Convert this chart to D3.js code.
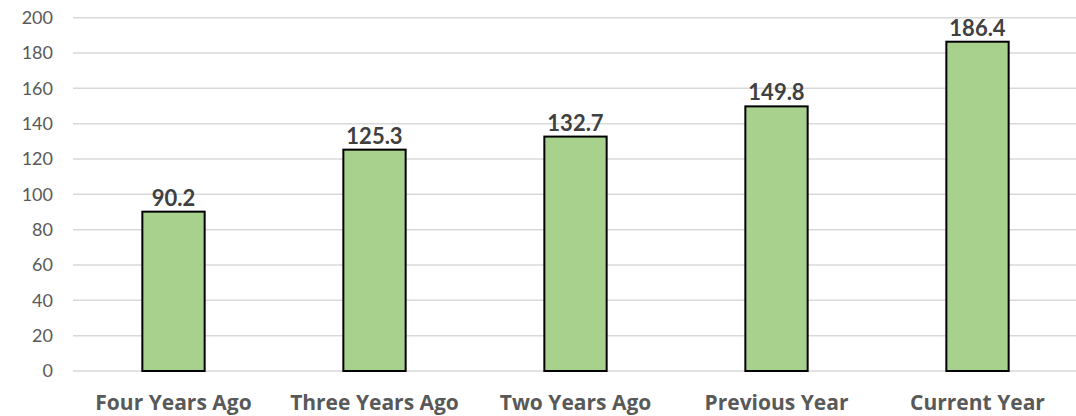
<!DOCTYPE html>
<html>
<head>
<meta charset="utf-8">
<script src="https://cdn.jsdelivr.net/npm/d3@7"></script>
<style>
  body { margin: 0; background: #fff; }
  text { font-family: Lato, "Open Sans", sans-serif; }
</style>
</head>
<body>
<svg></svg>
<script>
  var categories = ["Four Years Ago", "Three Years Ago", "Two Years Ago", "Previous Year", "Current Year"];
  var values = [90.2, 125.3, 132.7, 149.8, 186.4];
  var yTicks = [0, 20, 40, 60, 80, 100, 120, 140, 160, 180, 200];

  var width = 1076,
    height = 416;

  var svg = d3.select("svg")
    .attr("width", width)
    .attr("height", height);

  var x = d3.scaleBand()
    .domain(categories)
    .range([73, 1078])
    .paddingInner(0.69)
    .paddingOuter(0.345);

  var y = d3.scaleLinear()
    .domain([0, 200])
    .range([371, 17.7]);

  // gridlines
  svg.append("g")
    .selectAll("line")
    .data(yTicks)
    .enter()
    .append("line")
    .attr("x1", 73)
    .attr("x2", width)
    .attr("y1", function(d) { return y(d); })
    .attr("y2", function(d) { return y(d); })
    .attr("stroke", "#d9d9d9")
    .attr("stroke-width", 1.5);

  // y axis labels
  var yAxis = svg.append("g")
    .attr("transform", "translate(58,0)")
    .call(d3.axisLeft(y).tickValues(yTicks).tickSize(0).tickPadding(5));
  yAxis.select(".domain").remove();
  yAxis.selectAll("text")
    .attr("fill", "#595959")
    .style("font-size", "18px");

  // bars
  svg.append("g")
    .selectAll("rect")
    .data(values)
    .enter()
    .append("rect")
    .attr("x", function(d, i) { return x(categories[i]); })
    .attr("y", function(d) { return y(d); })
    .attr("width", x.bandwidth())
    .attr("height", function(d) { return y(0) - y(d); })
    .attr("fill", "#a9d18e")
    .attr("stroke", "#000")
    .attr("stroke-width", 2);

  // value labels
  svg.append("g")
    .selectAll("text")
    .data(values)
    .enter()
    .append("text")
    .attr("x", function(d, i) { return x(categories[i]) + x.bandwidth() / 2; })
    .attr("y", function(d) { return y(d) - 6; })
    .attr("text-anchor", "middle")
    .attr("fill", "#404040")
    .style("font-size", "22px")
    .style("font-weight", "bold")
    .text(function(d) { return d.toFixed(1); });

  // category labels
  var xAxis = svg.append("g")
    .attr("transform", "translate(0,371)")
    .call(d3.axisBottom(x).tickSize(0).tickPadding(24));
  xAxis.select(".domain").remove();
  xAxis.selectAll("text")
    .attr("fill", "#595959")
    .style("font-family", "'Open Sans', sans-serif")
    .style("font-size", "21px")
    .style("font-weight", "bold");
</script>
</body>
</html>
